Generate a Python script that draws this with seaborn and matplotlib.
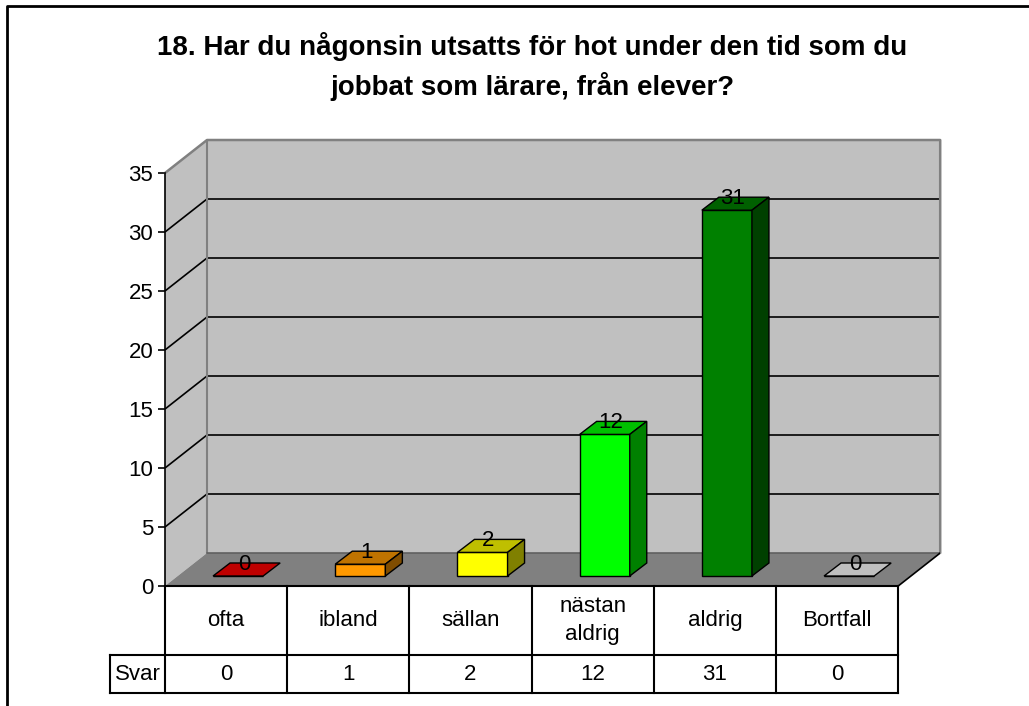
import matplotlib
matplotlib.use("Agg")
import matplotlib.pyplot as plt
import matplotlib.colors as mcolors
from matplotlib.patches import Polygon
from matplotlib.lines import Line2D
import seaborn as sns
import pandas as pd

# ---- data ----
categories = ["ofta", "ibland", "sällan", "nästan\naldrig", "aldrig", "Bortfall"]
values = [0, 1, 2, 12, 31, 0]
table_values = ["0", "1", "2", "12", "31", "0"]
row_label = "Svar"
title_lines = ["18. Har du någonsin utsatts för hot under den tid som du",
               "jobbat som lärare, från elever?"]
front_colors = ["#FF0000", "#FF9900", "#FFFF00", "#00FF00", "#008000", "#FFFFFF"]
y_ticks = [0, 5, 10, 15, 20, 25, 30, 35]

# ---- geometry (pixel scale) ----
W, H = 1029, 706
PX_X, PX_Y = 122.2, 11.8          # pixels per x-unit / y-unit
WDX, WDY = 42 / PX_X, 33 / PX_Y   # wall depth
BDX, BDY = 17 / PX_X, 13 / PX_Y   # bar depth
OFX, OFY = 12 / PX_X, 10 / PX_Y   # bar front offset into depth
YMAX = 35 + WDY
YMIN = -9.2
X0_PX, Y0_PX = 165, 586           # pixel of data (-0.5, 0)
FS = 16

sns.set_theme(style="white")
plt.rcParams["font.family"] = ["Liberation Sans", "DejaVu Sans"]

fig = plt.figure(figsize=(W / 100, H / 100), dpi=100)
ax_w = (6 + WDX) * PX_X
ax_h = (YMAX - YMIN) * PX_Y
top_px = Y0_PX - YMAX * PX_Y
ax = fig.add_axes([X0_PX / W, (H - (top_px + ax_h)) / H, ax_w / W, ax_h / H])
ax.set_facecolor("none")

df = pd.DataFrame({"cat": categories, "val": values})
sns.barplot(data=df, x="cat", y="val", hue="cat", palette=front_colors,
            legend=False, width=0.41, saturation=1, edgecolor="black",
            linewidth=1.0, ax=ax, zorder=2)

# walls & floor
gray_wall = "#C0C0C0"
ax.add_patch(Polygon([(-0.5, 0), (-0.5, 35), (-0.5 + WDX, 35 + WDY), (-0.5 + WDX, WDY)],
                     closed=True, fc=gray_wall, ec="none", zorder=0))
ax.add_patch(Polygon([(-0.5 + WDX, WDY), (-0.5 + WDX, 35 + WDY), (5.5 + WDX, 35 + WDY), (5.5 + WDX, WDY)],
                     closed=True, fc=gray_wall, ec="none", zorder=0))
ax.add_patch(Polygon([(-0.5, 0), (5.5, 0), (5.5 + WDX, WDY), (-0.5 + WDX, WDY)],
                     closed=True, fc="#808080", ec="none", zorder=0.2))
for v in y_ticks[1:-1]:
    ax.plot([-0.5, -0.5 + WDX, 5.5 + WDX], [v, v + WDY, v + WDY],
            color="black", lw=1.2, zorder=0.5, solid_capstyle="butt")
# wall borders
ax.plot([-0.5, -0.5 + WDX, 5.5 + WDX, 5.5 + WDX], [35, 35 + WDY, 35 + WDY, WDY],
        color="#808080", lw=1.8, zorder=0.6, clip_on=False)
ax.plot([-0.5 + WDX, -0.5 + WDX], [WDY, 35 + WDY], color="#808080", lw=1.5, zorder=0.6)
ax.plot([-0.5 + WDX, 5.5 + WDX], [WDY, WDY], color="#606060", lw=1.2, zorder=0.6)
ax.plot([5.5, 5.5 + WDX], [0, WDY], color="black", lw=1.2, zorder=0.6)

# 3D bars built from seaborn's rectangles
for p in list(ax.patches):
    if not isinstance(p, matplotlib.patches.Rectangle):
        continue
    cx = p.get_x() + p.get_width() / 2
    i = int(round(cx))
    if i < 0 or i >= len(values) or abs(cx - i) > 0.01:
        continue
    p.set_x(p.get_x() + OFX)
    p.set_y(p.get_y() + OFY)
    x0, x1 = p.get_x(), p.get_x() + p.get_width()
    y0, y1 = p.get_y(), p.get_y() + p.get_height()
    base = mcolors.to_rgb(front_colors[i])
    top_c = tuple(c * 0.75 for c in base)
    side_c = tuple(c * 0.5 for c in base)
    ax.add_patch(Polygon([(x0, y1), (x1, y1), (x1 + BDX, y1 + BDY), (x0 + BDX, y1 + BDY)],
                         closed=True, fc=top_c, ec="black", lw=1.0, zorder=2.1))
    if p.get_height() > 0:
        ax.add_patch(Polygon([(x1, y0), (x1 + BDX, y0 + BDY), (x1 + BDX, y1 + BDY), (x1, y1)],
                             closed=True, fc=side_c, ec="black", lw=1.0, zorder=2.1))
    ax.text(cx + OFX + 6 / PX_X, y1 + 12 / PX_Y, str(values[i]), ha="center", va="center",
            fontsize=FS, color="black", zorder=3)

# axes styling
ax.set_xlim(-0.5, 5.5 + WDX)
ax.set_ylim(YMIN, YMAX)
ax.set_xlabel("")
ax.set_ylabel("")
ax.set_xticks([])
for s in ["top", "right", "bottom"]:
    ax.spines[s].set_visible(False)
ax.spines["left"].set_bounds(0, 35)
ax.spines["left"].set_color("black")
ax.spines["left"].set_linewidth(1.2)
ax.spines["left"].set_zorder(3)
ax.set_yticks(y_ticks)
ax.set_yticklabels([str(t) for t in y_ticks])
ax.tick_params(axis="y", left=True, length=5, width=1.2, direction="out",
               pad=3.5, labelsize=FS, colors="black")

# data table
r1 = -(655 - 586) / PX_Y
r2 = -(693 - 586) / PX_Y
svar_x = -0.5 - 55 / PX_X
lk = dict(color="black", lw=1.5, clip_on=False, zorder=3, solid_capstyle="projecting")
ax.plot([-0.5, 5.5], [0, 0], **lk)
ax.plot([svar_x, 5.5], [r1, r1], **lk)
ax.plot([svar_x, 5.5], [r2, r2], **lk)
ax.plot([svar_x, svar_x], [r1, r2], **lk)
for k in range(7):
    ax.plot([-0.5 + k, -0.5 + k], [0, r2], **lk)
for i, (c, tv) in enumerate(zip(categories, table_values)):
    ax.text(i, r1 / 2, c, ha="center", va="center", fontsize=FS, linespacing=1.45,
            color="black", clip_on=False)
    ax.text(i, (r1 + r2) / 2, tv, ha="center", va="center", fontsize=FS,
            color="black", clip_on=False)
ax.text((svar_x - 0.5) / 2, (r1 + r2) / 2, row_label, ha="center", va="center",
        fontsize=FS, color="black", clip_on=False)

# title
fig.text(532 / W, 1 - 55 / H, title_lines[0], ha="center", va="baseline",
         fontsize=20, fontweight="bold", color="black")
fig.text(532 / W, 1 - 95 / H, title_lines[1], ha="center", va="baseline",
         fontsize=20, fontweight="bold", color="black")

# outer chart frame
fig.add_artist(Line2D([7 / W, 7 / W, 1.01], [-0.01, 1 - 6 / H, 1 - 6 / H],
                      transform=fig.transFigure, color="black", lw=2))

fig.savefig("out.png", dpi=100, facecolor="white")
